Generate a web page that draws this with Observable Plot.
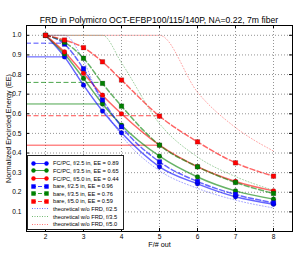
<!DOCTYPE html>
<html><head><meta charset="utf-8">
<script src="https://cdn.jsdelivr.net/npm/d3@7"></script>
<script src="https://cdn.jsdelivr.net/npm/@observablehq/plot@0.6"></script>
<style>
body{margin:0;background:#fff;font-family:"Liberation Sans",Arial,sans-serif;}
#wrap{position:relative;width:293px;height:258px;}
#title{position:absolute;left:26px;width:266px;top:15px;text-align:center;font-size:8.6px;line-height:10px;color:#000;z-index:2;white-space:nowrap;}
#legend{position:absolute;left:27px;top:155px;width:97px;height:75px;border:1px solid #222;background:#fff;box-sizing:border-box;z-index:2;padding-top:3.6px;}
.row{display:flex;align-items:center;height:7.6px;font-size:5.7px;white-space:nowrap;}
.row svg{margin-left:3px;margin-right:4px;flex:none;}
</style></head><body>
<div id="wrap"><div id="title">FRD in Polymicro OCT-EFBP100/115/140P, NA=0.22, 7m fiber</div><div id="legend"></div></div>
<script>
// ---- data ----
const fOut = [2, 2.5, 3, 3.5, 4, 5, 6, 7, 8];
const fcpc25 = [1.0, 0.89, 0.746, 0.614, 0.503, 0.33, 0.243, 0.177, 0.139];
const fcpc35 = [1.0, 0.905, 0.78, 0.65, 0.542, 0.384, 0.278, 0.207, 0.165];
const fcpc50 = [1.0, 0.915, 0.806, 0.695, 0.60, 0.44, 0.33, 0.255, 0.207];
const bare25 = [1.0, 0.955, 0.83, 0.67, 0.534, 0.355, 0.255, 0.189, 0.146];
const bare35 = [1.0, 0.965, 0.883, 0.755, 0.639, 0.44, 0.33, 0.25, 0.194];
const bare50 = [1.0, 0.976, 0.937, 0.865, 0.772, 0.588, 0.457, 0.35, 0.282];

const theoF25 = [2, 2.5, 3, 3.5, 4, 5, 6, 7, 8];
const theo25  = [1, 1, 0.87, 0.64, 0.49, 0.31, 0.22, 0.16, 0.12];
const theoF35 = [2, 3.5, 4, 5, 6, 7, 8];
const theo35  = [1, 1, 0.86, 0.55, 0.38, 0.28, 0.21];
const theoF50 = [2, 5, 6, 7, 8];
const theo50  = [1, 1, 0.71, 0.53, 0.41];

const seriesNames = ["FC/PC, f/2.5 in, EE = 0.89","FC/PC, f/3.5 in, EE = 0.65","FC/PC, f/5.0 in, EE = 0.44",
  "bare, f/2.5 in, EE = 0.96","bare, f/3.5 in, EE = 0.76","bare, f/5.0 in, EE = 0.59"];
const theoNames = ["theoretical w/o FRD, f/2.5","theoretical w/o FRD, f/3.5","theoretical w/o FRD, f/5.0"];
const fIn = [2.5, 3.5, 5.0, 2.5, 3.5, 5.0];
const eeAtIn = [0.89, 0.65, 0.44, 0.96, 0.76, 0.59];
const colors = ["#0000ff", "#008000", "#ff0000"];
const xTicks = [2, 3, 4, 5, 6, 7, 8];
const yTicks = [0.1, 0.2, 0.3, 0.4, 0.5, 0.6, 0.7, 0.8, 0.9, 1.0];
const xDomain = [1.5, 8.5];
const yDomain = [0, 1.05];

// ---- build tables ----
const meas = [fcpc25, fcpc35, fcpc50, bare25, bare35, bare50];
const fcRows = [], bareRows = [];
meas.forEach((vals, i) => vals.forEach((v, j) => {
  const r = {F: fOut[j], ee: v, s: seriesNames[i], color: colors[i % 3]};
  (i < 3 ? fcRows : bareRows).push(r);
}));
const theoRows = [];
[[theoF25, theo25], [theoF35, theo35], [theoF50, theo50]].forEach(([fs, vs], i) =>
  fs.forEach((f, j) => theoRows.push({F: f, ee: vs[j], s: theoNames[i], color: colors[i]})));
const eeRows = eeAtIn.map((e, i) => ({ee: e, fin: fIn[i], color: colors[i % 3], bare: i >= 3}));

const W = 293, H = 258, mT = 25, mB = 27, mL = 26, mR = 1;
const plotH = H - mT - mB, plotW = W - mL - mR;
const font = '"Liberation Sans", Arial, sans-serif';

const chart = Plot.plot({
  width: W, height: H, marginTop: mT, marginBottom: mB, marginLeft: mL, marginRight: mR,
  style: {fontFamily: font, fontSize: "6.6px", background: "#fff", color: "#000"},
  x: {domain: xDomain},
  y: {domain: yDomain},
  color: {type: "identity"},
  marks: [
    Plot.gridX(xTicks, {stroke: "#888", strokeOpacity: 0.9, strokeDasharray: "1,2"}),
    Plot.gridY(yTicks, {stroke: "#888", strokeOpacity: 0.9, strokeDasharray: "1,2"}),
    Plot.line(theoRows, {x: "F", y: "ee", z: "s", stroke: "color", strokeOpacity: 0.4, strokeWidth: 0.9, strokeDasharray: "1,2", curve: "monotone-x"}),
    Plot.ruleY(eeRows.filter(d => !d.bare), {y: "ee", x1: () => xDomain[0], x2: "fin", stroke: "color", strokeOpacity: 0.7}),
    Plot.ruleY(eeRows.filter(d => d.bare), {y: "ee", x1: () => xDomain[0], x2: "fin", stroke: "color", strokeOpacity: 0.7, strokeDasharray: "5,2.5"}),
    Plot.line(fcRows, {x: "F", y: "ee", z: "s", stroke: "color", strokeOpacity: 0.6, curve: "monotone-x"}),
    Plot.line(bareRows, {x: "F", y: "ee", z: "s", stroke: "color", strokeOpacity: 0.6, strokeDasharray: "5,2.5", curve: "monotone-x"}),
    Plot.dot(fcRows, {x: "F", y: "ee", fill: "color", stroke: "#000", strokeOpacity: 0.35, strokeWidth: 0.5, r: 2.4}),
    Plot.dot(bareRows, {x: "F", y: "ee", fill: "color", stroke: "#000", strokeOpacity: 0.35, strokeWidth: 0.5, r: 2.6, symbol: "square"}),
    Plot.frame({stroke: "#000"}),
    Plot.tickX(xTicks, {x: d => d, insetTop: plotH - 3, stroke: "#000"}),
    Plot.tickX(xTicks, {x: d => d, insetBottom: plotH - 3, stroke: "#000"}),
    Plot.tickY(yTicks, {y: d => d, insetRight: plotW - 3, stroke: "#000"}),
    Plot.tickY(yTicks, {y: d => d, insetLeft: plotW - 3, stroke: "#000"}),
    Plot.axisX(xTicks, {tickSize: 0, tickPadding: 3, label: null}),
    Plot.axisY(yTicks, {tickSize: 0, tickPadding: 5, label: null, tickFormat: d3.format(".1f")}),
    Plot.text(["F/# out"], {frameAnchor: "bottom", dy: 15, fontSize: 7.2, textAnchor: "middle"}),
    Plot.text(["Normalized Encircled Energy (EE)"], {frameAnchor: "left", rotate: -90, dx: -18, fontSize: 7.2, textAnchor: "middle"})
  ]
});
const wrap = document.getElementById("wrap");
wrap.insertBefore(chart, wrap.firstChild);

// ---- legend ----
const leg = document.getElementById("legend");
function sym(color, kind, dash) {
  const da = dash ? ` stroke-dasharray="${dash}"` : "";
  let m = "";
  if (kind === "circle") m = `<circle cx="2.5" cy="3.5" r="2.2" fill="${color}"/><circle cx="15.5" cy="3.5" r="2.2" fill="${color}"/>`;
  if (kind === "square") m = `<rect x="0.3" y="1.3" width="4.4" height="4.4" fill="${color}"/><rect x="13.3" y="1.3" width="4.4" height="4.4" fill="${color}"/>`;
  return `<svg width="18" height="7"><line x1="1" y1="3.5" x2="17" y2="3.5" stroke="${color}" stroke-opacity="${kind ? 0.75 : 0.55}"${da}/>${m}</svg>`;
}
const legItems = [];
seriesNames.forEach((n, i) => legItems.push({n, c: colors[i % 3], k: i < 3 ? "circle" : "square", d: i < 3 ? null : "4,2"}));
theoNames.forEach((n, i) => legItems.push({n, c: colors[i], k: null, d: "1,1.5"}));
leg.innerHTML = legItems.map(it => `<div class="row">${sym(it.c, it.k, it.d)}<span>${it.n}</span></div>`).join("");
</script>
</body></html>
